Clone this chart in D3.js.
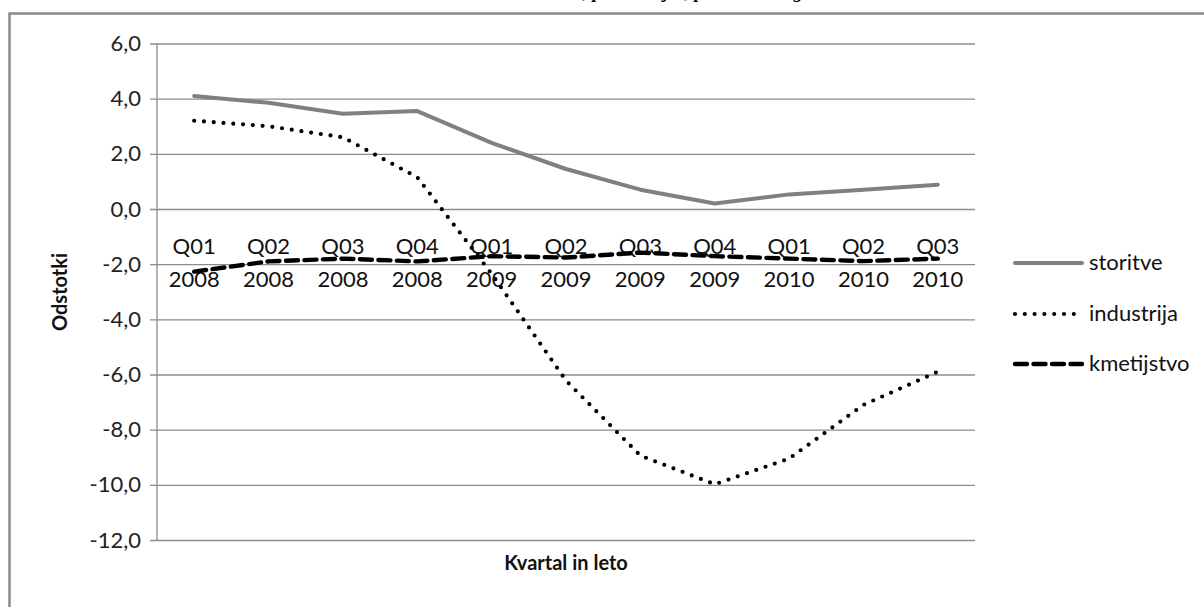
<!DOCTYPE html>
<html>
<head>
<meta charset="utf-8">
<script src="https://cdn.jsdelivr.net/npm/d3@7"></script>
<style>
  html, body { margin: 0; padding: 0; background: #fff; }
  svg { display: block; }
</style>
</head>
<body>
<svg id="chart" width="1204" height="607"></svg>
<script>
const quarters = ["Q01","Q02","Q03","Q04","Q01","Q02","Q03","Q04","Q01","Q02","Q03"];
const years    = ["2008","2008","2008","2008","2009","2009","2009","2009","2010","2010","2010"];
const storitve   = [4.1, 3.85, 3.45, 3.55, 2.4, 1.45, 0.7, 0.2, 0.53, 0.7, 0.88];
const industrija = [3.2, 3.0, 2.6, 1.15, -2.35, -6.22, -8.94, -9.98, -9.05, -7.1, -5.9];
const kmetijstvo = [-2.27, -1.9, -1.8, -1.9, -1.71, -1.76, -1.58, -1.71, -1.8, -1.89, -1.8];
const seriesNames = ["storitve", "industrija", "kmetijstvo"];
const yTicks = [6, 4, 2, 0, -2, -4, -6, -8, -10, -12];
const yTitle = "Odstotki";
const xTitle = "Kvartal in leto";
const titleText = "Rast dodane vrednosti, po sektorjih, po kvartalih glede na leto 2007";

const svg = d3.select("#chart");
const font = "Lato, 'Open Sans', sans-serif";
const gridColor = "#8c8c8c";

// outer frame (top and left visible)
svg.append("path")
  .attr("d", "M9.5,607 L9.5,13.5 L1204,13.5")
  .attr("fill", "none").attr("stroke", "#8a8a8a").attr("stroke-width", 2.5);

// title, cut off at top (only descenders visible, as in the reference)
svg.append("text")
  .attr("x", 410).attr("y", -2)
  .attr("text-anchor", "start")
  .attr("font-family", "'Liberation Serif', serif")
  .attr("font-style", "italic").attr("font-weight", "bold")
  .attr("font-size", 19).attr("fill", "#000")
  .text(titleText);

const plot = { left: 157, right: 975, top: 43.5, bottom: 540 };
const idx = d3.range(quarters.length);
const x = d3.scalePoint().domain(idx).range([plot.left, plot.right]).padding(0.5);
const y = d3.scaleLinear().domain([-12, 6]).range([plot.bottom, plot.top]);

// gridlines + y tick labels
const yAxis = d3.axisLeft(y).tickValues(yTicks).tickSize(-(plot.right - plot.left))
  .tickPadding(16)
  .tickFormat(d => d3.format(".1f")(d).replace(".", ",").replace("\u2212", "-"));
const gy = svg.append("g").attr("transform", `translate(${plot.left},0)`).call(yAxis);
gy.select(".domain").remove();
gy.selectAll(".tick line").attr("stroke", gridColor).attr("stroke-width", 1.3)
  .attr("x1", -7);
gy.selectAll(".tick text").attr("font-family", font).attr("font-size", 22).attr("fill", "#222");
// y axis line
svg.append("line").attr("x1", plot.left).attr("x2", plot.left)
  .attr("y1", plot.top).attr("y2", plot.bottom)
  .attr("stroke", gridColor).attr("stroke-width", 1.3);

// category labels
const xl = svg.append("g");
xl.selectAll("text.q").data(idx).join("text").attr("class", "q")
  .attr("x", d => x(d)).attr("y", 254)
  .attr("text-anchor", "middle").attr("font-family", font).attr("font-size", 22).attr("fill", "#111")
  .text(d => quarters[d]);
xl.selectAll("text.yr").data(idx).join("text").attr("class", "yr")
  .attr("x", d => x(d)).attr("y", 287)
  .attr("text-anchor", "middle").attr("font-family", font).attr("font-size", 22).attr("fill", "#111")
  .text(d => years[d]);

// lines
const styles = {
  storitve:   { stroke: "#808080", width: 4, dash: null, cap: "round" },
  industrija: { stroke: "#000", width: 4.2, dash: "0,9.8", cap: "round" },
  kmetijstvo: { stroke: "#000", width: 4.4, dash: "12,6.5", cap: "round" }
};
const data = { storitve, industrija, kmetijstvo };
const line = d3.line().x((d, i) => x(i)).y(d => y(d));
seriesNames.forEach(name => {
  const s = styles[name];
  svg.append("path").datum(data[name])
    .attr("d", line).attr("fill", "none")
    .attr("stroke", s.stroke).attr("stroke-width", s.width)
    .attr("stroke-linejoin", "round").attr("stroke-linecap", s.cap)
    .attr("stroke-dasharray", s.dash);
});

// axis titles
svg.append("text")
  .attr("transform", `translate(67,${292}) rotate(-90)`)
  .attr("text-anchor", "middle").attr("font-family", font).attr("font-weight", "bold")
  .attr("font-size", 20).attr("fill", "#111").text(yTitle);
svg.append("text")
  .attr("x", (plot.left + plot.right) / 2).attr("y", 570)
  .attr("text-anchor", "middle").attr("font-family", font).attr("font-weight", "bold")
  .attr("font-size", 20).attr("fill", "#111").text(xTitle);

// legend
const legY = [263, 314, 364];
const lg = svg.append("g");
seriesNames.forEach((name, i) => {
  const s = styles[name];
  lg.append("line").attr("x1", 1015).attr("x2", 1082)
    .attr("y1", legY[i]).attr("y2", legY[i])
    .attr("stroke", s.stroke).attr("stroke-width", s.width)
    .attr("stroke-linecap", s.cap).attr("stroke-dasharray", s.dash);
  lg.append("text").attr("x", 1089).attr("y", legY[i] + 7)
    .attr("font-family", font).attr("font-size", 22).attr("fill", "#111").text(name);
});
</script>
</body>
</html>
